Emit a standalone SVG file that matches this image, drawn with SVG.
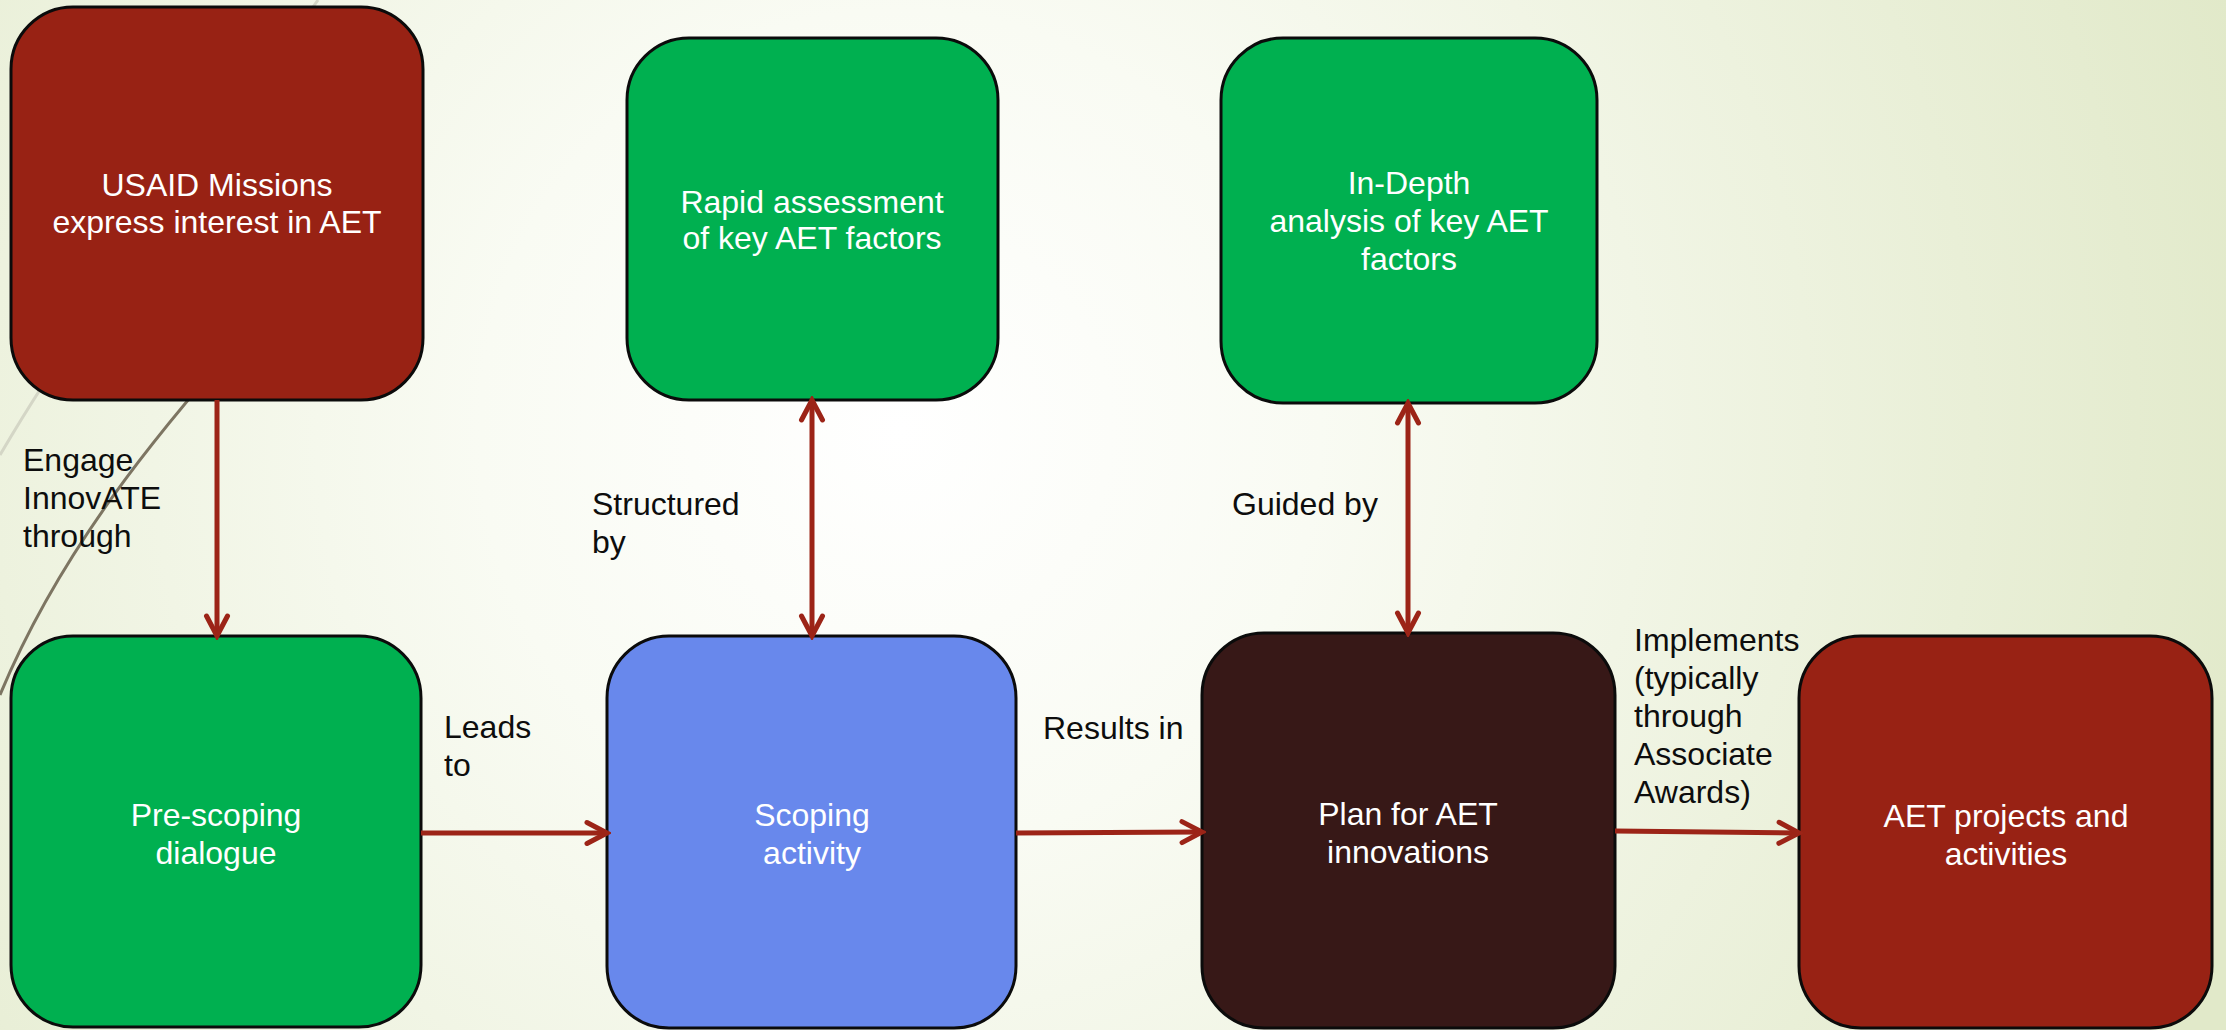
<svg xmlns="http://www.w3.org/2000/svg" width="2226" height="1030" viewBox="0 0 2226 1030">
<defs>
<radialGradient id="bg" cx="900" cy="430" r="1400" gradientUnits="userSpaceOnUse">
<stop offset="0" stop-color="#ffffff"/>
<stop offset="0.3" stop-color="#f9fbf3"/>
<stop offset="1" stop-color="#e1e9c9"/>
</radialGradient>
<marker id="arr" markerUnits="userSpaceOnUse" viewBox="-26 -16 30 32" markerWidth="30" markerHeight="32" refX="-2" refY="0" orient="auto-start-reverse">
<path d="M -20 -10.5 L 0 0 L -20 10.5" fill="none" stroke="#9c2417" stroke-width="5" stroke-linecap="round" stroke-linejoin="miter"/>
</marker>
<style>
.node rect{stroke:#0b0b0b;stroke-width:3}
.red{fill:#982214}
.green{fill:#00b050}
.blue{fill:#6888ec}
.dark{fill:#371817}
.nt{font-family:"Liberation Sans",Arial,sans-serif;font-size:32px;fill:#ffffff;text-anchor:middle}
.lb{font-family:"Liberation Sans",Arial,sans-serif;font-size:32px;fill:#0d0d0d}
.conn path{fill:none;stroke:#9c2417;stroke-width:5}
</style>
</defs>
<rect x="0" y="0" width="2226" height="1030" fill="url(#bg)"/>
<g id="decor">
<path d="M 318 0 C 220 140, 90 300, 0 455" fill="none" stroke="#d4d6c6" stroke-width="3"/>
<path d="M 240 340 C 160 430, 60 550, 0 695" fill="none" stroke="#7d7562" stroke-width="3"/>
</g>
<g id="labels">
<text class="lb" x="23" y="471">Engage</text>
<text class="lb" x="23" y="509">InnovATE</text>
<text class="lb" x="23" y="547">through</text>
<text class="lb" x="592" y="515">Structured</text>
<text class="lb" x="592" y="553">by</text>
<text class="lb" x="1232" y="515">Guided by</text>
<text class="lb" x="444" y="738">Leads</text>
<text class="lb" x="444" y="776">to</text>
<text class="lb" x="1043" y="739">Results in</text>
<text class="lb" x="1634" y="651">Implements</text>
<text class="lb" x="1634" y="689">(typically</text>
<text class="lb" x="1634" y="727">through</text>
<text class="lb" x="1634" y="765">Associate</text>
<text class="lb" x="1634" y="803">Awards)</text>
</g>
<g id="n-usaid" class="node">
<rect class="red" x="11" y="7" width="412" height="393" rx="62" ry="62"/>
<text class="nt" x="217" y="196">USAID Missions</text>
<text class="nt" x="217" y="233">express interest in AET</text>
</g>
<g id="n-rapid" class="node">
<rect class="green" x="627" y="38" width="371" height="362" rx="62" ry="62"/>
<text class="nt" x="812" y="213">Rapid assessment</text>
<text class="nt" x="812" y="249">of key AET factors</text>
</g>
<g id="n-indepth" class="node">
<rect class="green" x="1221" y="38" width="376" height="365" rx="62" ry="62"/>
<text class="nt" x="1409" y="194">In-Depth</text>
<text class="nt" x="1409" y="232">analysis of key AET</text>
<text class="nt" x="1409" y="270">factors</text>
</g>
<g id="n-prescoping" class="node">
<rect class="green" x="11" y="636" width="410" height="391" rx="62" ry="62"/>
<text class="nt" x="216" y="826">Pre-scoping</text>
<text class="nt" x="216" y="864">dialogue</text>
</g>
<g id="n-scoping" class="node">
<rect class="blue" x="607" y="636" width="409" height="392" rx="62" ry="62"/>
<text class="nt" x="812" y="826">Scoping</text>
<text class="nt" x="812" y="864">activity</text>
</g>
<g id="n-plan" class="node">
<rect class="dark" x="1202" y="633" width="413" height="395" rx="62" ry="62"/>
<text class="nt" x="1408" y="825">Plan for AET</text>
<text class="nt" x="1408" y="863">innovations</text>
</g>
<g id="n-aet" class="node">
<rect class="red" x="1799" y="636" width="413" height="392" rx="62" ry="62"/>
<text class="nt" x="2006" y="827">AET projects and</text>
<text class="nt" x="2006" y="865">activities</text>
</g>
<g id="connectors" class="conn">
<path d="M 217 400 L 217 634" marker-end="url(#arr)"/>
<path d="M 812 402 L 812 634" marker-start="url(#arr)" marker-end="url(#arr)"/>
<path d="M 1408 405 L 1408 631" marker-start="url(#arr)" marker-end="url(#arr)"/>
<path d="M 421 833 L 605 833" marker-end="url(#arr)"/>
<path d="M 1016 833 L 1200 832" marker-end="url(#arr)"/>
<path d="M 1615 831 L 1797 833" marker-end="url(#arr)"/>
</g>
</svg>
